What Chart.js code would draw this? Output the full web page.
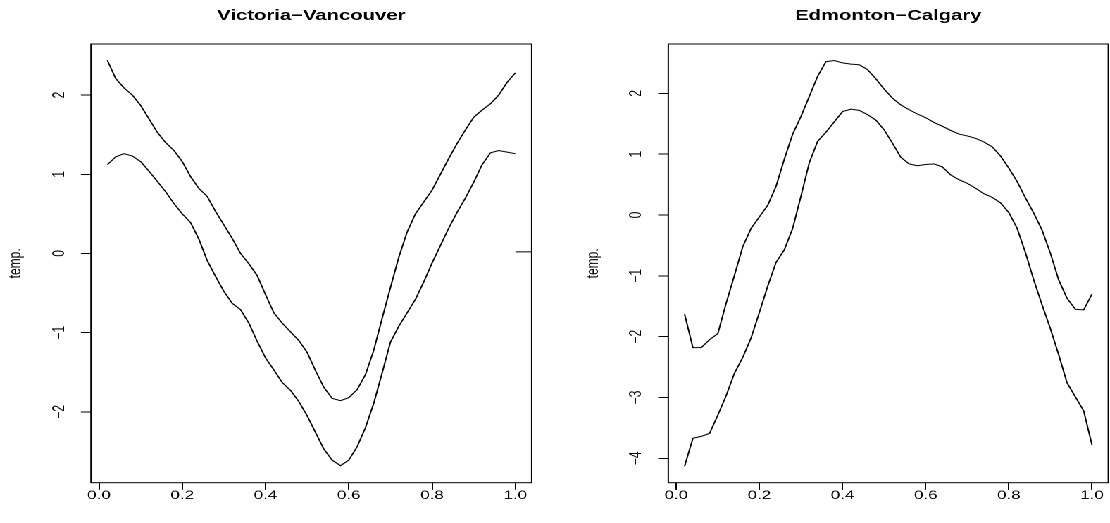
<!DOCTYPE html>
<html>
<head>
<meta charset="utf-8">
<title>Victoria-Vancouver / Edmonton-Calgary</title>
<script src="https://cdn.jsdelivr.net/npm/chart.js@4.4.1/dist/chart.umd.min.js"></script>
<style>
  html, body { margin: 0; padding: 0; background: #fff; overflow: hidden; }
  /* the original plot is stretched sideways, so draw narrow and widen it */
  #wrap { position: absolute; left: 0; top: 0; width: 788px; height: 523px;
          transform: scaleX(1.408629); transform-origin: 0 0; }
  #wrap canvas { position: absolute; top: 0; }
</style>
</head>
<body>
<div id="wrap">
  <canvas id="vic" width="394" height="523" style="left:0px;width:394px;height:523px"></canvas>
  <canvas id="edm" width="394" height="523" style="left:394px;width:394px;height:523px"></canvas>
</div>
<script>
// grid of the curves
const xs = [0.02, 0.04, 0.06, 0.08, 0.10, 0.12, 0.14, 0.16, 0.18, 0.20,
            0.22, 0.24, 0.26, 0.28, 0.30, 0.32, 0.34, 0.36, 0.38, 0.40,
            0.42, 0.44, 0.46, 0.48, 0.50, 0.52, 0.54, 0.56, 0.58, 0.60,
            0.62, 0.64, 0.66, 0.68, 0.70, 0.72, 0.74, 0.76, 0.78, 0.80,
            0.82, 0.84, 0.86, 0.88, 0.90, 0.92, 0.94, 0.96, 0.98, 1.00];

// Victoria-Vancouver
const vicUpper = [2.44, 2.21, 2.09, 2.00, 1.87, 1.70, 1.53, 1.40, 1.30, 1.16,
                  0.97, 0.82, 0.72, 0.53, 0.36, 0.19, 0.00, -0.13, -0.28, -0.52,
                  -0.75, -0.88, -0.99, -1.10, -1.25, -1.48, -1.69, -1.83, -1.86, -1.82,
                  -1.72, -1.53, -1.22, -0.82, -0.43, -0.05, 0.27, 0.50, 0.65, 0.80,
                  1.00, 1.20, 1.39, 1.56, 1.72, 1.81, 1.89, 2.00, 2.16, 2.28];
const vicLower = [1.12, 1.22, 1.26, 1.23, 1.16, 1.04, 0.91, 0.78, 0.63, 0.50,
                  0.39, 0.18, -0.09, -0.29, -0.48, -0.63, -0.71, -0.88, -1.11, -1.32,
                  -1.47, -1.63, -1.73, -1.87, -2.05, -2.26, -2.47, -2.61, -2.68, -2.61,
                  -2.44, -2.20, -1.89, -1.51, -1.12, -0.92, -0.75, -0.58, -0.36, -0.12,
                  0.10, 0.32, 0.52, 0.70, 0.90, 1.12, 1.27, 1.30, 1.28, 1.26];
// short stub at zero on the right edge
const vicTailX = [1.00, 1.04];
const vicTailY = [0.02, 0.02];

// Edmonton-Calgary
const edmUpper = [-1.63, -2.18, -2.18, -2.05, -1.95, -1.45, -0.99, -0.52, -0.22, -0.03,
                  0.16, 0.47, 0.92, 1.33, 1.62, 1.95, 2.28, 2.52, 2.54, 2.50,
                  2.48, 2.47, 2.39, 2.24, 2.07, 1.92, 1.81, 1.73, 1.66, 1.60,
                  1.52, 1.46, 1.39, 1.33, 1.30, 1.26, 1.20, 1.12, 0.97, 0.77,
                  0.55, 0.28, 0.03, -0.25, -0.63, -1.07, -1.37, -1.55, -1.56, -1.30];
const edmLower = [-4.13, -3.67, -3.64, -3.59, -3.29, -2.97, -2.60, -2.34, -2.02, -1.60,
                  -1.17, -0.78, -0.57, -0.22, 0.31, 0.86, 1.21, 1.36, 1.53, 1.70,
                  1.74, 1.72, 1.65, 1.56, 1.40, 1.18, 0.95, 0.84, 0.81, 0.83,
                  0.84, 0.79, 0.66, 0.58, 0.52, 0.44, 0.35, 0.29, 0.20, 0.04,
                  -0.22, -0.62, -1.07, -1.48, -1.87, -2.30, -2.76, -2.99, -3.22, -3.78];

// ticks
const xTickVals = [0, 0.2, 0.4, 0.6, 0.8, 1.0];
const xTickLabels = ['0.0', '0.2', '0.4', '0.6', '0.8', '1.0'];
const vicYTicks = [-2, -1, 0, 1, 2];
const vicYLabels = ['\u22122', '\u22121', '0', '1', '2'];
const edmYTicks = [-4, -3, -2, -1, 0, 1, 2];
const edmYLabels = ['\u22124', '\u22123', '\u22122', '\u22121', '0', '1', '2'];

const S = 555 / 394;   // horizontal stretch of the original
const FONT = '"Liberation Sans", Arial, Helvetica, sans-serif';

const pts = (xv, yv) => xv.map((x, i) => ({ x: x, y: yv[i] }));

function lineSet(data) {
  return { data: data, borderColor: '#000', borderWidth: 1, pointRadius: 0, tension: 0, fill: false };
}

// plot box on all four sides, like box() in R
const boxPlugin = {
  id: 'rbox',
  afterDatasetsDraw(chart) {
    const a = chart.chartArea, ctx = chart.ctx;
    ctx.save();
    ctx.strokeStyle = '#000';
    ctx.lineWidth = 1;
    ctx.strokeRect(a.left, a.top, a.right - a.left, a.bottom - a.top);
    ctx.restore();
  }
};

// y tick labels turned parallel to the axis
function yLabelPlugin(vals, labels) {
  return {
    id: 'rylabels',
    afterDraw(chart) {
      const sc = chart.scales.y, ctx = chart.ctx;
      ctx.save();
      ctx.font = '12px ' + FONT;
      ctx.fillStyle = '#000';
      ctx.textAlign = 'center';
      ctx.textBaseline = 'middle';
      vals.forEach((v, i) => {
        ctx.save();
        ctx.translate(chart.chartArea.left - 22.5, sc.getPixelForValue(v));
        ctx.rotate(-Math.PI / 2);
        ctx.fillText(labels[i], 0, 0);
        ctx.restore();
      });
      ctx.restore();
    }
  };
}

// area: plot box in page pixels inside its 555px panel
function makeChart(id, title, datasets, yMin, yMax, yTicks, yLabels, area) {
  const yW = 91 / S;
  const padL = area.left / S - yW;
  const padR = 394 - area.right / S;
  return new Chart(document.getElementById(id), {
    type: 'line',
    data: { datasets: datasets },
    options: {
      responsive: false,
      animation: false,
      devicePixelRatio: 2,
      events: [],
      layout: { padding: { left: padL, right: padR, top: 0, bottom: 0 } },
      plugins: {
        legend: { display: false },
        tooltip: { enabled: false },
        title: {
          display: true,
          text: title,
          fullSize: false,
          color: '#000',
          font: { family: FONT, size: 14.4, weight: 'bold', lineHeight: 1.2 },
          padding: { top: 7.3, bottom: 19.42 }
        }
      },
      scales: {
        x: {
          type: 'linear',
          min: -0.0192,
          max: 1.0392,
          afterBuildTicks: s => { s.ticks = xTickVals.map(v => ({ value: v })); },
          afterFit: s => { s.height = 523 - 482.7; },
          border: { display: false },
          grid: { drawOnChartArea: false, drawTicks: true, tickLength: 7.2, color: '#000', lineWidth: 1 },
          ticks: {
            autoSkip: false, maxRotation: 0, minRotation: 0, padding: 0, color: '#000',
            font: { family: FONT, size: 12, lineHeight: 1 },
            callback: (v, i) => xTickLabels[i]
          }
        },
        y: {
          type: 'linear',
          min: yMin,
          max: yMax,
          afterBuildTicks: s => { s.ticks = yTicks.map(v => ({ value: v })); },
          afterFit: s => { s.width = yW; },
          border: { display: false },
          grid: { drawOnChartArea: false, drawTicks: true, tickLength: 7.2, color: '#000', lineWidth: 1 },
          ticks: { display: false },
          title: {
            display: true, text: 'temp.', color: '#000',
            font: { family: FONT, size: 12, lineHeight: 1.2 },
            padding: { top: 4.2, bottom: 0 }
          }
        }
      }
    },
    plugins: [boxPlugin, yLabelPlugin(yTicks, yLabels)]
  });
}

makeChart('vic', 'Victoria\u2212Vancouver',
  [lineSet(pts(xs, vicUpper)), lineSet(pts(xs, vicLower)), lineSet(pts(vicTailX, vicTailY))],
  -2.895, 2.645, vicYTicks, vicYLabels, { left: 91, right: 531.7 });

makeChart('edm', 'Edmonton\u2212Calgary',
  [lineSet(pts(xs, edmUpper)), lineSet(pts(xs, edmLower))],
  -4.401, 2.811, edmYTicks, edmYLabels, { left: 668.3 - 555, right: 1108.3 - 555 });
</script>
</body>
</html>
